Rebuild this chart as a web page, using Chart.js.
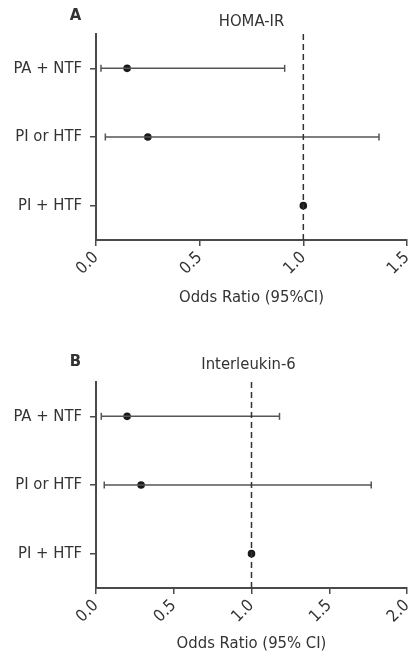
<!DOCTYPE html>
<html>
<head>
<meta charset="utf-8">
<script src="https://cdn.jsdelivr.net/npm/chart.js@4"></script>
<style>
  html, body { margin: 0; padding: 0; background: #fff; overflow: hidden; }
  canvas { position: absolute; left: 0; }
  #chartA { top: 0; }
  #chartB { top: 320px; }
</style>
</head>
<body>
<canvas id="chartA" width="417" height="320"></canvas>
<canvas id="chartB" width="417" height="335"></canvas>
<script>
// Data
const groups = ["PA + NTF", "PI or HTF", "PI + HTF"];

const homaOR = [0.15, 0.25, 1.0];
const homaLow = [0.024, 0.045, null];
const homaHigh = [0.91, 1.365, null];
const homaTicks = [0, 0.5, 1.0, 1.5];

const il6OR = [0.20, 0.29, 1.0];
const il6Low = [0.034, 0.053, null];
const il6High = [1.18, 1.77, null];
const il6Ticks = [0, 0.5, 1.0, 1.5, 2.0];

const FONT = "'DejaVu Sans Condensed', 'Liberation Sans Narrow', sans-serif";
const FS = 16.5;
const TEXT = "#333";
const AXIS = "#4a4a4a";

// letter + panel title, placed relative to the chart area
const panelText = {
    id: "panelText",
    afterDraw(chart, args, opts) {
        const { ctx, chartArea } = chart;
        ctx.save();
        ctx.fillStyle = TEXT;
        ctx.textAlign = "center";
        ctx.textBaseline = "middle";
        ctx.font = "bold " + FS + "px " + FONT;
        ctx.fillText(opts.letter, opts.letterX, chartArea.top - opts.letterDy);
        ctx.font = FS + "px " + FONT;
        ctx.fillText(opts.title, (chartArea.left + chartArea.right) / 2 + opts.titleDx, chartArea.top - opts.titleDy);
        ctx.restore();
    }
};

function makePanel(id, or, low, high, ticks, xTitle, p) {
    const datasets = [];

    // reference line at OR = 1
    datasets.push({
        data: [{ x: 1, y: 0.5 }, { x: 1, y: groups.length + 0.5 }],
        showLine: true,
        borderColor: "#333",
        borderWidth: 1.5,
        borderDash: [6, 4],
        pointRadius: 0
    });

    // confidence intervals with caps
    groups.forEach((g, i) => {
        if (low[i] == null) return;
        datasets.push({
            data: [{ x: low[i], y: i + 1 }, { x: high[i], y: i + 1 }],
            showLine: true,
            borderColor: "#555",
            borderWidth: 1.5,
            pointStyle: "line",
            rotation: 90,
            pointRadius: 3.5,
            pointBorderColor: "#555",
            pointBorderWidth: 1.5
        });
    });

    // point estimates
    datasets.push({
        data: or.map((v, i) => ({ x: v, y: i + 1 })),
        pointRadius: 3.8,
        pointBackgroundColor: "#1a1a1a",
        pointBorderColor: "#1a1a1a",
        pointBorderWidth: 0
    });

    return new Chart(document.getElementById(id), {
        type: "scatter",
        data: { datasets },
        plugins: [panelText],
        options: {
            responsive: false,
            animation: false,
            events: [],
            layout: { padding: { top: p.top, right: 10, left: 0, bottom: 0 } },
            plugins: {
                legend: { display: false },
                tooltip: { enabled: false },
                panelText: p.text
            },
            scales: {
                x: {
                    type: "linear",
                    min: ticks[0],
                    max: ticks[ticks.length - 1],
                    afterBuildTicks: s => { s.ticks = ticks.map(v => ({ value: v })); },
                    afterFit: s => { s.height = p.xHeight; s.paddingRight = 0; s.paddingLeft = 0; },
                    border: { display: true, color: AXIS, width: 2 },
                    grid: { drawOnChartArea: false, drawTicks: true, tickLength: 6, color: AXIS, lineWidth: 1.5 },
                    ticks: {
                        autoSkip: false,
                        minRotation: 45,
                        maxRotation: 45,
                        padding: 2,
                        color: TEXT,
                        font: { family: FONT, size: FS },
                        callback: v => Number(v).toFixed(1)
                    },
                    title: {
                        display: true,
                        text: xTitle,
                        color: TEXT,
                        font: { family: FONT, size: FS },
                        padding: { top: 0, bottom: p.titlePad }
                    }
                },
                y: {
                    type: "linear",
                    reverse: true,
                    min: 0.5,
                    max: groups.length + 0.5,
                    afterBuildTicks: s => { s.ticks = groups.map((g, i) => ({ value: i + 1 })); },
                    afterFit: s => { s.width = 96; },
                    border: { display: true, color: AXIS, width: 2 },
                    grid: { drawOnChartArea: false, drawTicks: true, tickLength: 6, color: AXIS, lineWidth: 1.5 },
                    ticks: {
                        padding: 8,
                        color: TEXT,
                        font: { family: FONT, size: FS },
                        callback: v => groups[v - 1]
                    }
                }
            }
        }
    });
}

makePanel("chartA", homaOR, homaLow, homaHigh, homaTicks, "Odds Ratio (95%CI)", {
    top: 34, xHeight: 80, titlePad: 12,
    text: { letter: "A", letterX: 75.5, letterDy: 18, title: "HOMA-IR", titleDx: 0, titleDy: 12 }
});

makePanel("chartB", il6OR, il6Low, il6High, il6Ticks, "Odds Ratio (95% CI)", {
    top: 62, xHeight: 67, titlePad: 1,
    text: { letter: "B", letterX: 75.5, letterDy: 20, title: "Interleukin-6", titleDx: -3, titleDy: 17 }
});
</script>
</body>
</html>
